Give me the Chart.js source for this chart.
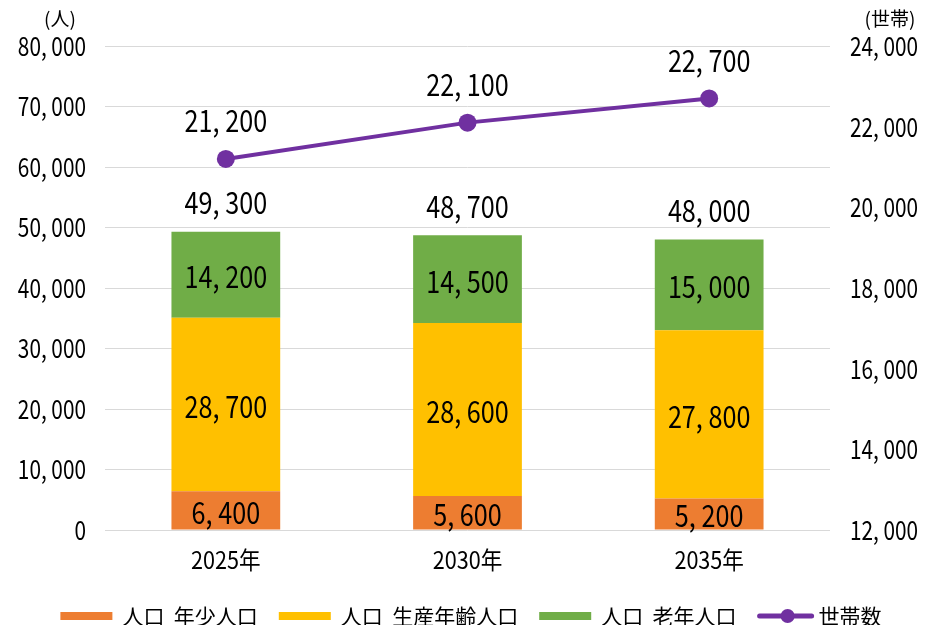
<!DOCTYPE html>
<html>
<head>
<meta charset="utf-8">
<script src="https://cdn.jsdelivr.net/npm/chart.js@4.4.1/dist/chart.umd.min.js"></script>
<style>
  html, body { margin: 0; background: #fff; }
  #wrap { width: 925px; height: 625px; }
</style>
</head>
<body>
<div id="wrap"><canvas id="chart"></canvas></div>
<script>
// データ
const years = ['2025年', '2030年', '2035年'];
const nenshou = [6400, 5600, 5200];      // 年少人口
const seisan = [28700, 28600, 27800];    // 生産年齢人口
const rounen = [14200, 14500, 15000];    // 老年人口
const setai = [21200, 22100, 22700];     // 世帯数
const seriesNames = ['人口 年少人口', '人口 生産年齢人口', '人口 老年人口', '世帯数'];
const colors = ['#ED7D31', '#FFC000', '#70AD47', '#7030A0'];

const FONT = '"Noto Sans CJK JP", "Noto Sans", sans-serif';

function fmt(n) {
    return n.toLocaleString('en-US').replace(/,/g, ', ');
}

// 縦長のフォントに近づけるため横方向に縮めて描く
function drawText(ctx, str, x, y, size, align, sx) {
    ctx.save();
    ctx.font = size + 'px ' + FONT;
    ctx.translate(x, y);
    ctx.scale(sx, 1);
    ctx.textAlign = align;
    ctx.textBaseline = 'middle';
    ctx.fillStyle = '#000';
    ctx.fillText(str, 0, 0);
    ctx.restore();
}

function textWidth(ctx, str, size, sx) {
    ctx.save();
    ctx.font = size + 'px ' + FONT;
    const w = ctx.measureText(str).width * sx;
    ctx.restore();
    return w;
}

const labelPlugin = {
    id: 'labelPlugin',
    afterDraw(chart) {
        const ctx = chart.ctx;
        const yL = chart.scales.y;
        const yR = chart.scales.y1;
        const xS = chart.scales.x;

        // 軸の目盛ラベル
        yL.ticks.forEach(t => {
            drawText(ctx, fmt(t.value), 86, yL.getPixelForValue(t.value), 26, 'right', 0.8);
        });
        yR.ticks.forEach(t => {
            drawText(ctx, fmt(t.value), 850, yR.getPixelForValue(t.value), 26, 'left', 0.8);
        });
        years.forEach((y, i) => {
            drawText(ctx, y, xS.getPixelForValue(i), 560, 24, 'center', 0.9);
        });

        // 単位
        drawText(ctx, '(人)', 60, 19, 19, 'center', 1);
        drawText(ctx, '(世帯)', 890, 19, 19, 'center', 1);

        // 棒グラフのラベル
        for (let d = 0; d < 3; d++) {
            const meta = chart.getDatasetMeta(d);
            meta.data.forEach((el, i) => {
                const v = chart.data.datasets[d].data[i];
                drawText(ctx, fmt(v), el.x, (el.y + el.base) / 2 + 2, 30, 'center', 0.84);
            });
        }

        // 合計
        const top = chart.getDatasetMeta(2);
        top.data.forEach((el, i) => {
            const total = nenshou[i] + seisan[i] + rounen[i];
            drawText(ctx, fmt(total), el.x, el.y - 29, 30, 'center', 0.84);
        });

        // 世帯数
        const line = chart.getDatasetMeta(3);
        line.data.forEach((el, i) => {
            drawText(ctx, fmt(setai[i]), el.x, el.y - 38, 30, 'center', 0.84);
        });

        // 凡例
        const ly = 616;
        const items = seriesNames.map((name, i) => {
            const txt = name.replace(' ', '  ');
            const sw = i < 3 ? 52 : 56;
            const pad = i < 3 ? 10 : 5;
            return { txt: txt, color: colors[i], sw: sw, pad: pad, w: sw + pad + textWidth(ctx, txt, 21, 1) };
        });
        const gap = 21;
        const totalW = items.reduce((s, it) => s + it.w, 0) + gap * (items.length - 1);
        let lx = 471 - totalW / 2;
        items.forEach((it, i) => {
            if (i < 3) {
                ctx.fillStyle = it.color;
                ctx.fillRect(lx, ly - 4, it.sw, 8);
            } else {
                ctx.strokeStyle = it.color;
                ctx.lineWidth = 5;
                ctx.lineCap = 'round';
                ctx.beginPath();
                ctx.moveTo(lx + 2, ly);
                ctx.lineTo(lx + it.sw - 2, ly);
                ctx.stroke();
                ctx.fillStyle = it.color;
                ctx.beginPath();
                ctx.arc(lx + 30, ly, 7, 0, Math.PI * 2);
                ctx.fill();
            }
            drawText(ctx, it.txt, lx + it.sw + it.pad, ly, 21, 'left', 1);
            lx += it.w + gap;
        });
    }
};

const ctx = document.getElementById('chart').getContext('2d');

new Chart(ctx, {
    data: {
        labels: years,
        datasets: [
            { type: 'bar', label: seriesNames[0], data: nenshou, backgroundColor: colors[0], stack: 's', yAxisID: 'y', order: 1 },
            { type: 'bar', label: seriesNames[1], data: seisan, backgroundColor: colors[1], stack: 's', yAxisID: 'y', order: 1 },
            { type: 'bar', label: seriesNames[2], data: rounen, backgroundColor: colors[2], stack: 's', yAxisID: 'y', order: 1 },
            {
                type: 'line', label: seriesNames[3], data: setai, yAxisID: 'y1', order: 0,
                borderColor: colors[3], backgroundColor: colors[3], borderWidth: 4,
                pointRadius: 9, pointHoverRadius: 9, pointBackgroundColor: colors[3], pointBorderWidth: 0
            }
        ]
    },
    options: {
        responsive: true,
        maintainAspectRatio: false,
        animation: false,
        layout: { padding: { top: 46, bottom: 45, left: 0, right: 0 } },
        datasets: { bar: { categoryPercentage: 1, barPercentage: 0.45 } },
        plugins: {
            legend: { display: false },
            tooltip: { enabled: false }
        },
        scales: {
            x: {
                stacked: true,
                grid: { display: false },
                border: { display: false },
                ticks: { display: false },
                afterFit(scale) { scale.height = 50; }
            },
            y: {
                stacked: true,
                position: 'left',
                min: 0, max: 80000,
                ticks: { display: false, stepSize: 10000 },
                grid: { color: '#d9d9d9', lineWidth: 1, drawTicks: false },
                border: { display: false },
                afterFit(scale) { scale.width = 105; }
            },
            y1: {
                position: 'right',
                min: 12000, max: 24000,
                ticks: { display: false, stepSize: 2000 },
                grid: { display: false },
                border: { display: false },
                afterFit(scale) { scale.width = 95; }
            }
        }
    },
    plugins: [labelPlugin]
});
</script>
</body>
</html>
